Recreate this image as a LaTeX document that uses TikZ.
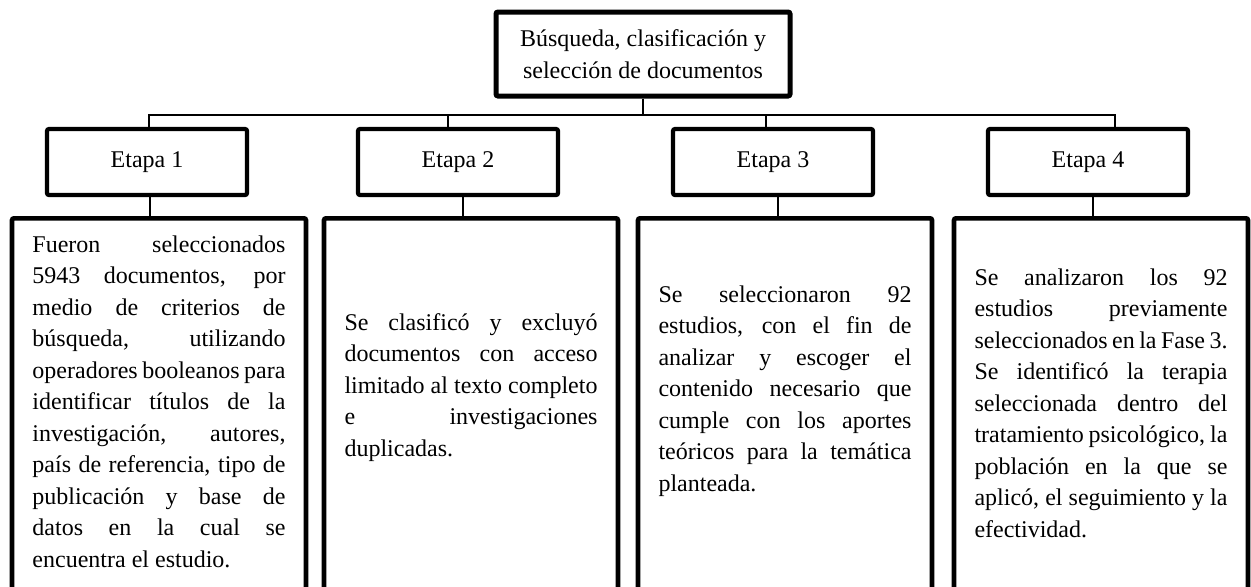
\documentclass[tikz,border=0pt]{standalone}
\usepackage{fontspec}
\setmainfont{Liberation Serif}
\usetikzlibrary{positioning}
\hyphenpenalty=10000
\tolerance=10000

\begin{document}
\begin{tikzpicture}[x=0.5pt,y=-0.5pt,font=\fontsize{12}{15.75}\selectfont]
    \tikzstyle{titulo}=[draw, line width=2.5pt, rounded corners=1pt, minimum width=147pt, minimum height=42pt, align=center]
    \tikzstyle{etapa}=[draw, line width=2.1pt, rounded corners=1pt, minimum width=100pt, minimum height=33pt]
    \tikzstyle{marco}=[draw, line width=2.3pt, rounded corners=1pt, minimum width=147pt, minimum height=210pt, anchor=north]
    \tikzstyle{texto}=[text width=126.5pt, align=justify, inner sep=0pt, anchor=north]
    \tikzstyle{linea}=[line width=0.75pt]

    \useasboundingbox (0,0) rectangle (1251,586);
    \clip (0,0) rectangle (1251,586);

    \node[titulo] (busqueda) at (643,54) {Búsqueda, clasificación y\\selección de documentos};

    \node[etapa] (etapa1) at (147,162) {Etapa 1};
    \node[etapa] (etapa2) at (458,162) {Etapa 2};
    \node[etapa] (etapa3) at (773,162) {Etapa 3};
    \node[etapa] (etapa4) at (1088,162) {Etapa 4};

    \node[marco] (fase1) at (159,216) {};
    \node[marco] (fase2) at (471,216) {};
    \node[marco] (fase3) at (785,216) {};
    \node[marco] (fase4) at (1101,216) {};

    \node[texto] (desc1) at (159,235) {Fueron seleccionados\linebreak 5943 documentos, por\linebreak medio de criterios de\linebreak búsqueda, utilizando\linebreak operadores booleanos para\linebreak identificar títulos de la\linebreak investigación, autores,\linebreak país de referencia, tipo de\linebreak publicación y base de\linebreak datos en la cual se\linebreak encuentra el estudio.};
    \node[texto] (desc2) at (471,313) {Se clasificó y excluyó\linebreak documentos con acceso\linebreak limitado al texto completo\linebreak e investigaciones\linebreak duplicadas.};
    \node[texto] (desc3) at (785,285) {Se seleccionaron 92\linebreak estudios, con el fin de\linebreak analizar y escoger el\linebreak contenido necesario que\linebreak cumple con los aportes\linebreak teóricos para la temática\linebreak planteada.};
    \node[texto] (desc4) at (1101,268) {Se analizaron los 92\linebreak estudios previamente\linebreak seleccionados en la Fase 3.\linebreak Se identificó la terapia\linebreak seleccionada dentro del\linebreak tratamiento psicológico, la\linebreak población en la que se\linebreak aplicó, el seguimiento y la\linebreak efectividad.};

    % ramas
    \coordinate (rama) at (0,115);
    \draw[linea] (busqueda.south) -- (busqueda.south |- rama);
    \draw[linea] ([xshift=1pt]etapa1.north) |- ([xshift=13.5pt]etapa4.north |- rama) -- ([xshift=13.5pt]etapa4.north);
    \draw[linea] ([xshift=-5pt]etapa2.north) -- ([xshift=-5pt]etapa2.north |- rama);
    \draw[linea] ([xshift=-3.5pt]etapa3.north) -- ([xshift=-3.5pt]etapa3.north |- rama);

    \draw[linea] ([xshift=1.5pt]etapa1.south) -- ([xshift=1.5pt]etapa1.south |- fase1.north);
    \draw[linea] ([xshift=2.5pt]etapa2.south) -- ([xshift=2.5pt]etapa2.south |- fase2.north);
    \draw[linea] ([xshift=2.5pt]etapa3.south) -- ([xshift=2.5pt]etapa3.south |- fase3.north);
    \draw[linea] ([xshift=2.5pt]etapa4.south) -- ([xshift=2.5pt]etapa4.south |- fase4.north);
\end{tikzpicture}
\end{document}
